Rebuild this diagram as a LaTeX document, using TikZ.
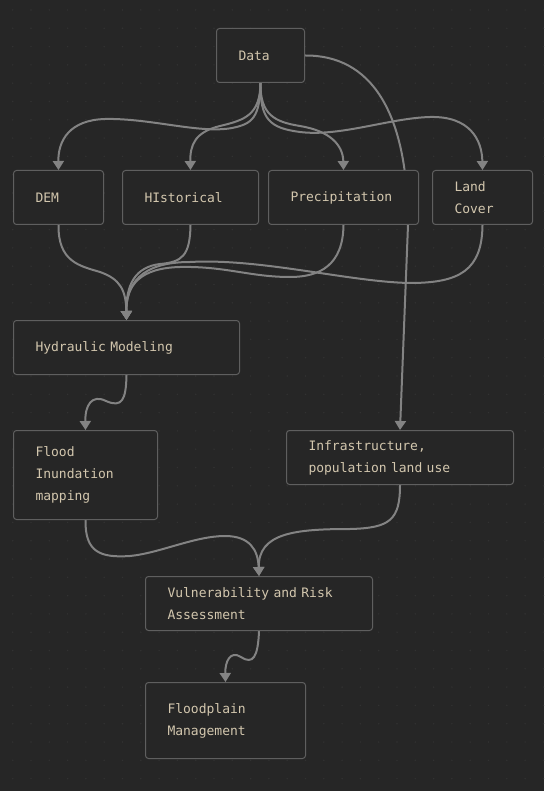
\documentclass[tikz,border=0pt]{standalone}
\usepackage{fontspec}
\usepackage{tikz}
\usetikzlibrary{arrows.meta}
\newfontfamily\boxfont{DejaVu Sans Mono}
\definecolor{bgcol}{HTML}{262626}
\definecolor{dotcol}{HTML}{323232}
\definecolor{bordercol}{HTML}{5F5F5F}
\definecolor{edgecol}{HTML}{838383}
\definecolor{textcol}{HTML}{D3C7AE}
\pgfdeclarelayer{bg}
\pgfdeclarelayer{edges}
\pgfsetlayers{bg,edges,main}
\tikzstyle{box} = [rectangle, rounded corners=3pt, anchor=north west, inner xsep=22pt, inner ysep=0pt, align=left, line width=1pt, draw=bordercol, fill=bgcol, text=textcol, font=\boxfont\fontsize{13}{22}\selectfont]
\tikzstyle{arrow} = [line width=2pt, draw=edgecol, -{Triangle[length=9pt,width=11pt]}]

\begin{document}
\begin{tikzpicture}[x=1pt, y=-1pt]
\useasboundingbox (0,0) rectangle (544,791);
\begin{pgfonlayer}{bg}
\fill [bgcol] (0,0) rectangle (544,791);
\foreach \i in {0,...,29}
  \foreach \j in {0,...,42}
    \fill [dotcol] (12.7+18.3*\i, 10+18.3*\j) circle (0.8pt);
\end{pgfonlayer}
\node (data) [box, text width=44pt, minimum height=54pt] at (216,28) {Data};
\node (dem) [box, text width=46pt, minimum height=54pt] at (13,170) {DEM};
\node (hist) [box, text width=92pt, minimum height=54pt] at (122,170) {HIstorical};
\node (precip) [box, text width=106pt, minimum height=54pt] at (268,170) {Precipitation};
\node (landcov) [box, text width=56pt, minimum height=54pt] at (432,170) {Land\\Cover};
\node (hydro) [box, text width=182pt, minimum height=54pt] at (13,320) {Hydraulic Modeling};
\node (flood) [box, text width=100pt, minimum height=89pt] at (13,430) {Flood\\Inundation\\mapping};
\node (infra) [box, text width=183pt, minimum height=54pt] at (286,430) {Infrastructure,\\population land use};
\node (vuln) [box, text width=183pt, minimum height=54pt] at (145,576) {Vulnerability and Risk\\Assessment};
\node (fpm) [box, text width=116pt, minimum height=76pt] at (145,682) {Floodplain\\Management};
\begin{pgfonlayer}{edges}
\draw [arrow] (data.south) .. controls (260,118) and (252,124) .. (232,128) .. controls (200,134) and (150,118) .. (105,119) .. controls (70,120) and (58,140) .. (dem.north);
\draw [arrow] (data.south) .. controls (260,115) and (245,120) .. (220,126) .. controls (195,132) and (190,145) .. (hist.north);
\draw [arrow] (data.south) .. controls (260,115) and (275,122) .. (300,126) .. controls (330,131) and (343,145) .. (precip.north);
\draw [arrow] (data.south) .. controls (260,120) and (270,128) .. (300,132) .. controls (340,137) and (390,118) .. (430,117) .. controls (470,116) and (482,140) .. (landcov.north);
\draw [arrow] (data.east) .. controls (370,55) and (408,110) .. (408,225) -- (infra.north);
\draw [arrow] (dem.south) .. controls (58,262) and (80,266) .. (100,272) .. controls (120,279) and (126,290) .. (hydro.north);
\draw [arrow] (hist.south) .. controls (190,256) and (182,262) .. (160,264) .. controls (135,267) and (126,285) .. (hydro.north);
\draw [arrow] (precip.south) .. controls (343,265) and (320,277) .. (290,277) .. controls (250,277) and (225,266) .. (180,267) .. controls (140,268) and (126,285) .. (hydro.north);
\draw [arrow] (landcov.south) .. controls (482,270) and (460,283) .. (410,283) .. controls (350,282) and (260,258) .. (190,262) .. controls (140,262) and (126,285) .. (hydro.north);
\draw [arrow] (hydro.south) .. controls (126,400) and (122,408) .. (106,401) .. controls (92,394) and (85,405) .. (flood.north);
\draw [arrow] (flood.south) .. controls (85,552) and (100,558) .. (130,556) .. controls (160,553) and (195,536) .. (225,536) .. controls (250,536) and (258,550) .. (vuln.north);
\draw [arrow] (infra.south) .. controls (400,520) and (390,528) .. (350,529) .. controls (295,529) and (258,533) .. (vuln.north);
\draw [arrow] (vuln.south) .. controls (258,657) and (253,665) .. (241,657) .. controls (230,650) and (225,662) .. (fpm.north);
\end{pgfonlayer}
\end{tikzpicture}
\end{document}
